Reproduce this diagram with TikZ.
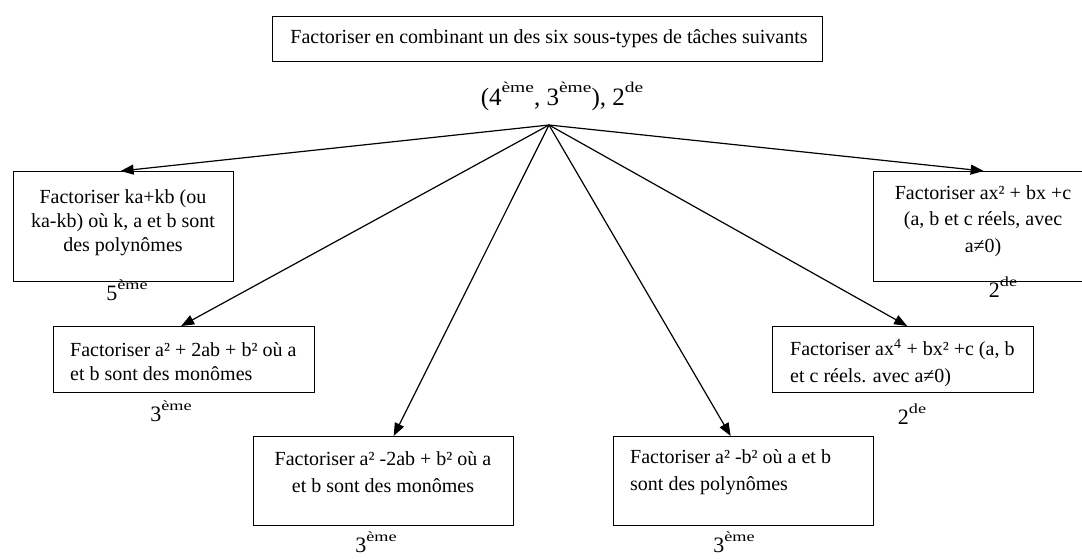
\documentclass[tikz,border=0pt]{standalone}
\usepackage{fontspec}
\setmainfont{Liberation Serif}
\newfontfamily\supfont{Liberation Serif}[FakeStretch=1.3]
\usetikzlibrary{arrows.meta,calc}
\newcommand{\expo}[1]{\raisebox{0.5em}{\supfont\fontsize{14}{14}\selectfont #1}}
\newcommand{\expob}[1]{\raisebox{0.5em}{\supfont\fontsize{15}{15}\selectfont #1}}
\begin{document}
\begin{tikzpicture}[x=1pt,y=-1pt,
  box/.style={draw,line width=1.3pt,inner sep=0pt,anchor=north west},
  txt/.style={inner sep=0pt,font=\fontsize{20}{24}\selectfont},
  txtw/.style={inner sep=0pt,font=\fontsize{20}{26.7}\selectfont},
  lvl/.style={inner sep=0pt,anchor=base,font=\fontsize{22}{24}\selectfont},
  arr/.style={line width=1.2pt,-{Triangle[length=13pt,width=10pt]}}
]
\clip (0,0) rectangle (1082,558);
\useasboundingbox (0,0) rectangle (1082,558);

% boxes
\node[box,minimum width=550pt,minimum height=45pt] (top) at (272,16) {};
\node[box,minimum width=220pt,minimum height=110pt] (b1) at (13,171) {};
\node[box,minimum width=261pt,minimum height=66pt] (b2) at (53,326) {};
\node[box,minimum width=260pt,minimum height=89pt] (b3) at (253,436) {};
\node[box,minimum width=260pt,minimum height=89pt] (b4) at (613,436) {};
\node[box,minimum width=261pt,minimum height=66pt] (b5) at (772,326) {};
\node[box,minimum width=220pt,minimum height=110pt] (b6) at (873,171) {};

% texts
\node[txt] (ttop) at (549,39) {Factoriser en combinant un des six sous-types de tâches suivants};
\node[inner sep=0pt,anchor=base,font=\fontsize{25}{26}\selectfont] (ltop) at (562,105) {(4\expob{ème}, 3\expob{ème}), 2\expob{de}};
\node[txt,align=center] (t1) at (123,223) {Factoriser ka+kb (ou\\ka-kb) où k, a et b sont\\des polynômes};
\node[txt,align=left,anchor=west] (t2) at (70,362) {Factoriser a² + 2ab + b² où a\\et b sont des monômes};
\node[txtw,align=center] (t3) at (383,472) {Factoriser a² -2ab + b² où a\\et b sont des monômes};
\node[txtw,align=left,anchor=west] (t4) at (630,472) {Factoriser a² -b² où a et b\\sont des polynômes};
\node[txtw,align=left,anchor=west] (t5) at (790,363) {Factoriser ax\textsuperscript{4} + bx² +c (a, b\\et c réels. avec a≠0)};
\node[txtw,align=center] (t6) at (983,221) {Factoriser ax² + bx +c\\(a, b et c réels, avec\\a≠0)};

% levels
\node[lvl] (l1) at (127,300) {5\expo{ème}};
\node[lvl] (l2) at (171,421) {3\expo{ème}};
\node[lvl] (l3) at (376,552) {3\expo{ème}};
\node[lvl] (l4) at (734,552) {3\expo{ème}};
\node[lvl] (l5) at (912,424) {2\expo{de}};
\node[lvl] (l6) at (1003,297) {2\expo{de}};

% connectors
\coordinate (o) at (549,125);
\draw[arr] (o) -- ($(b1.north)+(-3,0)$);
\draw[arr] (o) -- ($(b2.north)+(-3,0)$);
\draw[arr] (o) -- ($(b3.north)+(10,0)$);
\draw[arr] (o) -- ($(b4.north)+(-13,0)$);
\draw[arr] (o) -- ($(b5.north)+(4,0)$);
\draw[arr] (o) -- (b6.north);
\end{tikzpicture}
\end{document}
